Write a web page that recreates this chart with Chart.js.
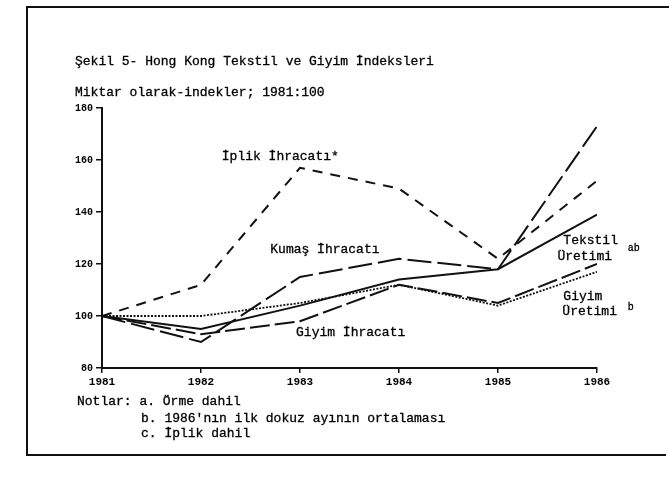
<!DOCTYPE html>
<html>
<head>
<meta charset="utf-8">
<script src="https://cdn.jsdelivr.net/npm/chart.js@4.4.1/dist/chart.umd.min.js"></script>
<style>
  html, body { margin:0; padding:0; background:#fff; }
  #wrap { position:relative; width:669px; height:487px; overflow:hidden; background:#fff; }
  #c { position:absolute; left:0; top:0; }
  .t { position:absolute; font-family:"Liberation Mono","DejaVu Sans Mono",monospace; font-size:13px; color:#000; white-space:pre; line-height:16px; -webkit-text-stroke:0.3px #000; }
  .frame { position:absolute; background:#111; }
</style>
</head>
<body>
<div id="wrap">
  <canvas id="c" width="669" height="487"></canvas>
  <div class="frame" style="left:26px;top:6px;width:643px;height:2px;"></div>
  <div class="frame" style="left:26px;top:6px;width:2px;height:450px;"></div>
  <div class="frame" style="left:26px;top:454px;width:640px;height:2px;"></div>
  <div class="t" style="left:75px;top:54px;">Şekil 5- Hong Kong Tekstil ve Giyim İndeksleri</div>
  <div class="t" style="left:75px;top:85px;">Miktar olarak-indekler; 1981:100</div>
  <div class="t" style="left:77px;top:394px;">Notlar: a. Örme dahil</div>
  <div class="t" style="left:141px;top:411px;">b. 1986'nın ilk dokuz ayının ortalaması</div>
  <div class="t" style="left:141px;top:426px;">c. İplik dahil</div>
</div>
<script>
const years = [1981, 1982, 1983, 1984, 1985, 1986];
const yTicks = [80, 100, 120, 140, 160, 180];
const iplikIhracati = [100, 112, 157, 149, 122, 152];
const kumasIhracati = [100, 90, 115, 122, 118, 173];
const tekstilUretimi = [100, 95, 104, 114, 118, 139];
const giyimIhracati = [100, 93, 98, 112, 105, 120];
const giyimUretimi = [100, 100, 105, 112, 104, 117];

const lineLabels = [
  { text: "İplik İhracatı*", x: 1982.21, y: 161.5, size: 13 },
  { text: "Kumaş İhracatı", x: 1982.70, y: 125.5, size: 13 },
  { text: "Giyim İhracatı", x: 1982.96, y: 93.5, size: 13 },
  { text: "Tekstil", x: 1985.66, y: 129, size: 13 },
  { text: "Üretimi", x: 1985.60, y: 123, size: 13 },
  { text: "ab", x: 1986.31, y: 126, size: 10 },
  { text: "Giyim", x: 1985.66, y: 107.5, size: 13 },
  { text: "Üretimi", x: 1985.65, y: 101.7, size: 13 },
  { text: "b", x: 1986.31, y: 103.5, size: 10 }
];

const pts = arr => arr.map((v, i) => ({ x: years[i], y: v }));
const ink = '#111';

const labelPlugin = {
  id: 'lineLabels',
  afterDatasetsDraw(chart) {
    const ctx = chart.ctx, xs = chart.scales.x, ys = chart.scales.y;
    ctx.save();
    ctx.fillStyle = '#000';
    ctx.strokeStyle = '#000';
    ctx.lineWidth = 0.3;
    ctx.textBaseline = 'middle';
    ctx.textAlign = 'left';
    lineLabels.forEach(l => {
      ctx.font = l.size + 'px "Liberation Mono", "DejaVu Sans Mono", monospace';
      const px = xs.getPixelForValue(l.x), py = ys.getPixelForValue(l.y);
      ctx.fillText(l.text, px, py);
      ctx.strokeText(l.text, px, py);
    });
    ctx.restore();
  }
};

const ds = (label, arr, dash, w) => ({
  label, data: pts(arr), borderColor: ink, borderWidth: w || 2,
  borderDash: dash, pointRadius: 0, fill: false, tension: 0
});

new Chart(document.getElementById('c'), {
  type: 'line',
  data: {
    datasets: [
      ds('İplik İhracatı', iplikIhracati, [10, 8]),
      ds('Kumaş İhracatı', kumasIhracati, [24, 6]),
      ds('Tekstil Üretimi', tekstilUretimi, []),
      ds('Giyim İhracatı', giyimIhracati, [20, 5]),
      ds('Giyim Üretimi', giyimUretimi, [2, 1.5], 1.8)
    ]
  },
  options: {
    responsive: false,
    animation: false,
    layout: { padding: { left: 62, right: 72, top: 108, bottom: 89 } },
    plugins: { legend: { display: false }, tooltip: { enabled: false }, title: { display: false } },
    scales: {
      x: {
        type: 'linear', min: 1981, max: 1986,
        afterFit: s => { s.height = 30; },
        afterBuildTicks: s => { s.ticks = years.map(v => ({ value: v })); },
        ticks: {
          callback: v => String(v), color: '#000', padding: 3,
          font: { family: '"Liberation Mono", monospace', size: 11, weight: 'bold' },
          maxRotation: 0
        },
        grid: { drawOnChartArea: false, drawTicks: true, tickLength: 5, color: ink, lineWidth: 1.5 },
        border: { display: true, color: ink, width: 2, dash: [28, 7, 8, 7] }
      },
      y: {
        min: 80, max: 180,
        afterFit: s => { s.width = 40; },
        afterBuildTicks: s => { s.ticks = yTicks.map(v => ({ value: v })); },
        ticks: {
          color: '#000', padding: 3,
          font: { family: '"Liberation Mono", monospace', size: 10, weight: 'bold' }
        },
        grid: { drawOnChartArea: false, drawTicks: true, tickLength: 6, color: ink, lineWidth: 1.5 },
        border: { display: true, color: ink, width: 2 }
      }
    }
  },
  plugins: [labelPlugin]
});
</script>
</body>
</html>
